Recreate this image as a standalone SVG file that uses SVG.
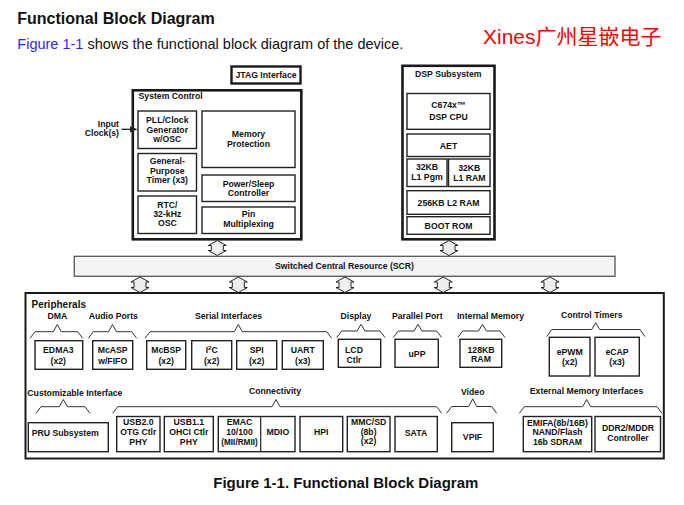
<svg xmlns="http://www.w3.org/2000/svg" width="684" height="505" viewBox="0 0 684 505">
<defs>
<style>
.t{font-family:"Liberation Sans",Arial,sans-serif;font-weight:bold;font-size:8.7px;fill:#111;text-anchor:middle}
.s{text-anchor:start}
.e{text-anchor:end}
.box{fill:#fff;stroke:#222;stroke-width:1.4}
.outer{fill:#fff;stroke:#1a1a1a;stroke-width:2.6}
.brace{fill:none;stroke:#333;stroke-width:1}
.arr{fill:#eeeeee;stroke:#222;stroke-width:1}
</style>
</defs>
<rect width="684" height="505" fill="#fff"/>

<g id="header">
<text x="17.3" y="23.5" style="font-family:'Liberation Sans',Arial,sans-serif;font-weight:bold;font-size:16px;fill:#111">Functional Block Diagram</text>
<text x="17.3" y="48.5" style="font-family:'Liberation Sans',Arial,sans-serif;font-size:14.5px;fill:#111"><tspan fill="#2a2aff">Figure 1-1</tspan> shows the functional block diagram of the device.</text>
<text x="483" y="43.5" style="font-family:'Liberation Sans','Noto Sans CJK SC',sans-serif;font-size:21px;fill:#ff0000">Xines广州星嵌电子</text>
</g>

<g id="jtag">
<rect x="231.5" y="66.5" width="69" height="17" class="outer" style="stroke-width:2.4"/>
<text x="266" y="78" class="t">JTAG Interface</text>
</g>

<g id="system-control">
<rect x="132.8" y="90.3" width="168.5" height="149" class="outer"/>
<text x="138.5" y="99" class="t s">System Control</text>
</g>
<g id="pll">
<rect x="138" y="111" width="58.5" height="37.5" class="box"/>
<text x="167.3" y="123" class="t">PLL/Clock</text>
<text x="167.3" y="132.5" class="t">Generator</text>
<text x="167.3" y="142" class="t">w/OSC</text>
</g>
<g id="gp-timer">
<rect x="138" y="153.5" width="58.5" height="37.5" class="box"/>
<text x="167.3" y="164" class="t">General-</text>
<text x="167.3" y="173.6" class="t">Purpose</text>
<text x="167.3" y="183.3" class="t">Timer (x3)</text>
</g>
<g id="rtc">
<rect x="138" y="196" width="58.5" height="37.5" class="box"/>
<text x="167.3" y="208" class="t">RTC/</text>
<text x="167.3" y="217" class="t">32-kHz</text>
<text x="167.3" y="226" class="t">OSC</text>
</g>
<g id="mem-prot">
<rect x="202" y="111" width="93" height="56.5" class="box"/>
<text x="248.5" y="136.5" class="t">Memory</text>
<text x="248.5" y="146.5" class="t">Protection</text>
</g>
<g id="power-sleep">
<rect x="202" y="175" width="93" height="26.5" class="box"/>
<text x="248.5" y="186.5" class="t">Power/Sleep</text>
<text x="248.5" y="195.8" class="t">Controller</text>
</g>
<g id="pin-mux">
<rect x="202" y="207" width="93" height="26.5" class="box"/>
<text x="248.5" y="217.3" class="t">Pin</text>
<text x="248.5" y="226.7" class="t">Multiplexing</text>
</g>
<g id="input-clock">
<text x="119" y="126.7" class="t e">Input</text>
<text x="119" y="136" class="t e">Clock(s)</text>
</g>

<g id="dsp-subsystem">
<rect x="402.5" y="65.8" width="92" height="173.5" class="outer"/>
<text x="448.3" y="76.7" class="t">DSP Subsystem</text>
</g>
<g id="dsp-cpu">
<rect x="407" y="93.5" width="83" height="35.8" class="box"/>
<text x="448.5" y="108" class="t">C674x™</text>
<text x="448.5" y="119.5" class="t">DSP CPU</text>
</g>
<g id="aet">
<rect x="407" y="134" width="83" height="22.5" class="box"/>
<text x="448.5" y="149" class="t">AET</text>
</g>
<g id="l1pgm">
<rect x="407" y="159" width="40" height="27.5" class="box"/>
<text x="427" y="170.3" class="t">32KB</text>
<text x="427" y="180.3" class="t">L1 Pgm</text>
</g>
<g id="l1ram">
<rect x="448.5" y="159" width="41.5" height="27.5" class="box"/>
<text x="469.3" y="170.8" class="t">32KB</text>
<text x="469.3" y="180.7" class="t">L1 RAM</text>
</g>
<g id="l2ram">
<rect x="407" y="190.7" width="83" height="23.6" class="box"/>
<text x="448.5" y="205.7" class="t">256KB L2 RAM</text>
</g>
<g id="boot-rom">
<rect x="407" y="216.7" width="83" height="17.6" class="box"/>
<text x="448.5" y="228.5" class="t">BOOT ROM</text>
</g>

<g id="scr">
<rect x="74.3" y="256.3" width="540.7" height="20" fill="#f4f4f6" stroke="#555" stroke-width="1.3"/>
<text x="344.5" y="269" class="t">Switched Central Resource (SCR)</text>
</g>

<g id="peripherals">
<rect x="25.5" y="293" width="638.3" height="165.5" fill="#fff" stroke="#1a1a1a" stroke-width="2"/>
<text x="31.5" y="307.5" class="t s" style="font-size:10px">Peripherals</text>
</g>

<g id="group-labels">
<text x="57.3" y="319.3" class="t">DMA</text>
<text x="113.3" y="319.3" class="t">Audio Ports</text>
<text x="228.5" y="319.3" class="t">Serial Interfaces</text>
<text x="356" y="319.3" class="t">Display</text>
<text x="417.3" y="319.3" class="t">Parallel Port</text>
<text x="490.5" y="319.3" class="t">Internal Memory</text>
<text x="591.7" y="317.7" class="t">Control Timers</text>
<text x="27.3" y="395.7" class="t s">Customizable Interface</text>
<text x="275" y="394" class="t">Connectivity</text>
<text x="472.7" y="395" class="t">Video</text>
<text x="586.5" y="394" class="t">External Memory Interfaces</text>
<path class="brace" d="M30 338.3L35 331.7L53.3 331.7L57.3 324.5L61.3 331.7L77.7 331.7L82.7 338.3"/>
<path class="brace" d="M88.3 338.3L93.3 331.7L108.5 331.7L112.5 324.5L116.5 331.7L131.7 331.7L136.7 338.3"/>
<path class="brace" d="M145 338.3L150 331.7L234.3 331.7L238.3 324.5L242.3 331.7L326.7 331.7L331.7 338.3"/>
<path class="brace" d="M336.7 337.5L341.7 331L357 331L361 324.3L365 331L380 331L385 337.5"/>
<path class="brace" d="M393.3 337.5L398.3 331L414 331L418 324.3L422 331L436.7 331L441.7 337.5"/>
<path class="brace" d="M457.7 337.5L462.7 331L478.5 331L482.5 324.3L486.5 331L500 331L505 337.5"/>
<path class="brace" d="M546.7 336.7L551.7 329.5L591.7 329.5L595.7 322.7L599.7 329.5L640 329.5L645 336.7"/>
<path class="brace" d="M36 413.3L41 406.7L59.3 406.7L63.3 399.5L67.3 406.7L85 406.7L90 413.3"/>
<path class="brace" d="M112.7 413.3L117.7 406.7L272 406.7L276 399.5L280 406.7L436.7 406.7L441.7 413.3"/>
<path class="brace" d="M446.7 413.3L451.7 406.5L468.7 406.5L472.7 398.8L476.7 406.5L491.7 406.5L496.7 413.3"/>
<path class="brace" d="M519.3 413.3L524.3 406.7L582.7 406.7L586.7 399.5L590.7 406.7L657 406.7L662 413.3"/>
</g>

<g id="edma3">
<rect x="35" y="340.7" width="47.7" height="28.6" class="box"/>
<text x="58.3" y="353.3" class="t">EDMA3</text>
<text x="58.3" y="363.5" class="t">(x2)</text>
</g>
<g id="mcasp">
<rect x="92.7" y="340.7" width="40" height="28.6" class="box"/>
<text x="112.7" y="353.3" class="t">McASP</text>
<text x="112.7" y="363.5" class="t">w/FIFO</text>
</g>
<g id="mcbsp">
<rect x="146.7" y="340.7" width="39" height="28.6" class="box"/>
<text x="166.2" y="353.3" class="t">McBSP</text>
<text x="166.2" y="363.5" class="t">(x2)</text>
</g>
<g id="i2c">
<rect x="191.7" y="340.7" width="40" height="28.6" class="box"/>
<text x="211.7" y="353.3" class="t">I<tspan dy="-3" style="font-size:6px">2</tspan><tspan dy="3">C</tspan></text>
<text x="211.7" y="363.5" class="t">(x2)</text>
</g>
<g id="spi">
<rect x="236.7" y="340.7" width="40" height="28.6" class="box"/>
<text x="256.7" y="353.3" class="t">SPI</text>
<text x="256.7" y="363.5" class="t">(x2)</text>
</g>
<g id="uart">
<rect x="282.3" y="340.7" width="41" height="28.6" class="box"/>
<text x="302.8" y="353.3" class="t">UART</text>
<text x="302.8" y="363.5" class="t">(x3)</text>
</g>
<g id="lcd">
<rect x="338.3" y="339.3" width="42.4" height="28" class="box"/>
<text x="354" y="353.3" class="t">LCD</text>
<text x="354" y="362.5" class="t">Ctlr</text>
</g>
<g id="upp">
<rect x="395" y="339.3" width="43.3" height="28" class="box"/>
<text x="417" y="356.5" class="t">uPP</text>
</g>
<g id="ram128">
<rect x="460" y="339.3" width="41.7" height="28" class="box"/>
<text x="481" y="352.7" class="t">128KB</text>
<text x="481" y="361.5" class="t">RAM</text>
</g>
<g id="epwm">
<rect x="549.3" y="337.3" width="40.7" height="38.7" class="box"/>
<text x="569.7" y="355" class="t">ePWM</text>
<text x="569.7" y="365" class="t">(x2)</text>
</g>
<g id="ecap">
<rect x="595" y="337.3" width="44.3" height="38.7" class="box"/>
<text x="617" y="355" class="t">eCAP</text>
<text x="617" y="365" class="t">(x3)</text>
</g>

<g id="pru">
<rect x="28.3" y="422.7" width="80" height="29" class="box"/>
<text x="65.2" y="435.5" class="t">PRU Subsystem</text>
</g>
<g id="usb20">
<rect x="116.7" y="416.5" width="43.3" height="35.2" class="box"/>
<text x="138.3" y="425" class="t">USB2.0</text>
<text x="138.3" y="435" class="t">OTG Ctlr</text>
<text x="138.3" y="445" class="t">PHY</text>
</g>
<g id="usb11">
<rect x="164.3" y="416.5" width="49" height="35.2" class="box"/>
<text x="188.8" y="425" class="t">USB1.1</text>
<text x="188.8" y="435" class="t">OHCI Ctlr</text>
<text x="188.8" y="445" class="t">PHY</text>
</g>
<g id="emac">
<rect x="218.3" y="416.5" width="76.7" height="35.2" class="box"/>
<line x1="260.7" y1="416.5" x2="260.7" y2="451.7" stroke="#222" stroke-width="1.2"/>
<text x="239.5" y="425" class="t">EMAC</text>
<text x="239.5" y="435" class="t">10/100</text>
<text x="239.5" y="445" class="t" style="font-size:8.2px">(MII/RMII)</text>
<text x="277.8" y="435" class="t">MDIO</text>
</g>
<g id="hpi">
<rect x="300" y="416.5" width="42.7" height="35.2" class="box"/>
<text x="321.3" y="435" class="t">HPI</text>
</g>
<g id="mmcsd">
<rect x="347.3" y="416.5" width="42.7" height="35.2" class="box"/>
<text x="368.6" y="425" class="t">MMC/SD</text>
<text x="368.6" y="434.5" class="t">(8b)</text>
<text x="368.6" y="444.3" class="t">(x2)</text>
</g>
<g id="sata">
<rect x="395" y="416.5" width="42.3" height="35.2" class="box"/>
<text x="416" y="436" class="t">SATA</text>
</g>
<g id="vpif">
<rect x="451.7" y="422.7" width="41.6" height="29" class="box"/>
<text x="472.5" y="439.5" class="t">VPIF</text>
</g>
<g id="emifa">
<rect x="523.3" y="416.5" width="68.4" height="35.2" class="box"/>
<text x="557.5" y="426" class="t">EMIFA(8b/16B)</text>
<text x="557.5" y="435.3" class="t">NAND/Flash</text>
<text x="557.5" y="444.5" class="t">16b SDRAM</text>
</g>
<g id="ddr2">
<rect x="595" y="416.5" width="65.5" height="35.2" class="box"/>
<text x="628" y="430.7" class="t">DDR2/MDDR</text>
<text x="628" y="441" class="t">Controller</text>
</g>

<g id="connectors">
<line x1="121.5" y1="129.3" x2="131" y2="129.3" stroke="#222" stroke-width="1.3"/>
<polygon points="130,126.2 137.5,129.3 130,132.4" fill="#222"/>
<polygon class="arr" points="217.3,240.5 226.3,245.5 223.3,245.5 223.3,250.5 226.3,250.5 217.3,255.5 208.3,250.5 211.3,250.5 211.3,245.5 208.3,245.5"/>
<polygon class="arr" points="449,240.5 458,245.5 455,245.5 455,250.5 458,250.5 449,255.5 440,250.5 443,250.5 443,245.5 440,245.5"/>
<polygon class="arr" points="140,277 149,282 146,282 146,287.5 149,287.5 140,292.5 131,287.5 134,287.5 134,282 131,282"/>
<polygon class="arr" points="238.3,277 247.3,282 244.3,282 244.3,287.5 247.3,287.5 238.3,292.5 229.3,287.5 232.3,287.5 232.3,282 229.3,282"/>
<polygon class="arr" points="345,277 354,282 351,282 351,287.5 354,287.5 345,292.5 336,287.5 339,287.5 339,282 336,282"/>
<polygon class="arr" points="443.3,277 452.3,282 449.3,282 449.3,287.5 452.3,287.5 443.3,292.5 434.3,287.5 437.3,287.5 437.3,282 434.3,282"/>
<polygon class="arr" points="550,277 559,282 556,282 556,287.5 559,287.5 550,292.5 541,287.5 544,287.5 544,282 541,282"/>
</g>

<g id="caption">
<text x="345.8" y="487.5" class="t" style="font-size:15px">Figure 1-1. Functional Block Diagram</text>
</g>
</svg>
